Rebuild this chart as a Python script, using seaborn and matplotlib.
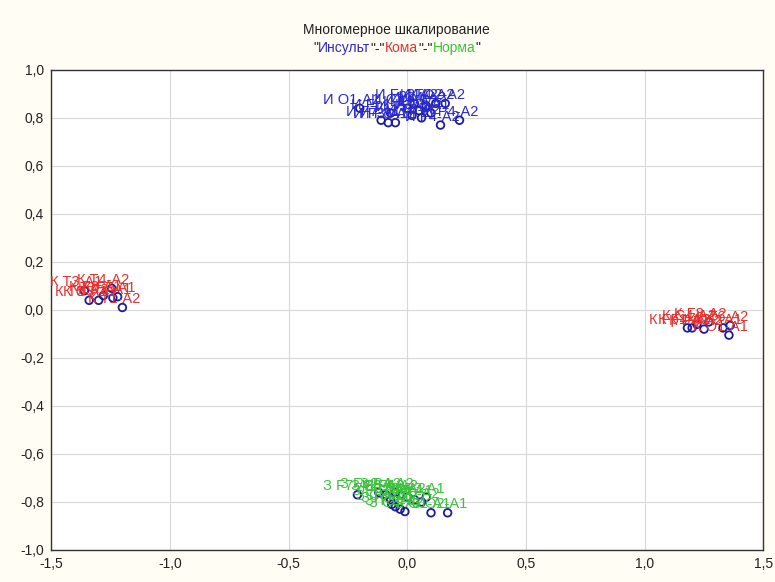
import matplotlib
matplotlib.use("Agg")
import matplotlib.pyplot as plt
import seaborn as sns
import pandas as pd
from matplotlib.ticker import FuncFormatter

# ---------------- data ----------------
leads = ["Fp1-A1", "Fp2-A2", "F3-A1", "F4-A2", "F7-A1", "F8-A2", "C3-A1", "C4-A2",
         "T3-A1", "T4-A2", "T5-A1", "T6-A2", "P3-A1", "P4-A2", "O1-A1", "O2-A2"]

insult_x = [-0.07, 0.03, -0.08, 0.14, -0.11, 0.05, 0.00, 0.08, 0.10, 0.12, 0.02, 0.06, -0.05, 0.22, -0.20, 0.16]
insult_y = [0.82, 0.86, 0.78, 0.77, 0.79, 0.83, 0.84, 0.85, 0.82, 0.86, 0.81, 0.80, 0.78, 0.79, 0.84, 0.86]

koma_l_x = [-1.36, -1.34, -1.30, -1.28, -1.245, -1.24, -1.22, -1.20]
koma_l_y = [0.08, 0.04, 0.04, 0.06, 0.09, 0.05, 0.055, 0.01]
koma_r_x = [1.18, 1.20, 1.22, 1.25, 1.33, 1.36, 1.355, 1.27]
koma_r_y = [-0.075, -0.075, -0.06, -0.08, -0.075, -0.065, -0.105, -0.05]

norma_x = [-0.21, -0.07, -0.065, -0.05, -0.03, -0.01, 0.10, 0.17, -0.12, -0.09, -0.03, 0.00, 0.03, 0.06, 0.08, -0.05]
norma_y = [-0.77, -0.79, -0.81, -0.82, -0.83, -0.84, -0.845, -0.845, -0.76, -0.77, -0.77, -0.78, -0.79, -0.80, -0.78, -0.76]
norma_labels = ["F7-A1", "Fp1-A1", "C3-A1", "F3-A1", "T3-A1", "C4-A2", "O1-A1", "O2-A1",
                "Fp2-A2", "F8-A2", "F4-A2", "T4-A2", "T5-A1", "T6-A2", "P3-A1", "P4-A2"]

koma_labels_l = ["T3-A1", "T5-A1", "C3-A1", "F3-A1", "T4-A2", "P3-A1", "F7-A1", "T1-A2"]
koma_labels_r = ["Fp1-A1", "F4-A2", "C4-A2", "P4-A2", "O2-A1", "T6-A2", "O1-A1", "F8-A2"]

groups = {"Инсульт": "#2a2ad0", "Кома": "#e8302e", "Норма": "#3cc23c"}

rows = []
for x, y, l in zip(insult_x, insult_y, leads):
    rows.append(("Инсульт", "И " + l, x, y))
for x, y, l in zip(koma_l_x, koma_l_y, koma_labels_l):
    rows.append(("Кома", "К " + l, x, y))
for x, y, l in zip(koma_r_x, koma_r_y, koma_labels_r):
    rows.append(("Кома", "К " + l, x, y))
for x, y, l in zip(norma_x, norma_y, norma_labels):
    rows.append(("Норма", "З " + l, x, y))
df = pd.DataFrame(rows, columns=["group", "label", "x", "y"])

# ---------------- plot ----------------
sns.set_style("white")
plt.rcParams["font.family"] = ["Liberation Sans", "DejaVu Sans"]

fig = plt.figure(figsize=(7.75, 5.82), dpi=100, facecolor="#fffdf4")
ax = fig.add_axes([0.066, 0.055, 0.919, 0.825])
ax.set_facecolor("white")

sns.scatterplot(data=df, x="x", y="y", ax=ax, marker="o", s=30,
                facecolors="none", edgecolor="#1c1c9c", linewidth=1.3,
                legend=False, zorder=3)

for _, r in df.iterrows():
    ax.annotate(r["label"], (r["x"], r["y"]), xytext=(-6, 6),
                textcoords="offset points", ha="center", va="center",
                fontsize=10.5, color=groups[r["group"]], zorder=4)

ax.set_xlim(-1.5, 1.5)
ax.set_ylim(-1.0, 1.0)
ax.set_xticks([-1.5, -1.0, -0.5, 0.0, 0.5, 1.0, 1.5])
ax.set_yticks([-1.0, -0.8, -0.6, -0.4, -0.2, 0.0, 0.2, 0.4, 0.6, 0.8, 1.0])
fmt = FuncFormatter(lambda v, p: f"{v:.1f}".replace(".", ",").replace("-0,0", "0,0"))
ax.xaxis.set_major_formatter(fmt)
ax.yaxis.set_major_formatter(fmt)
ax.grid(True, color="#d8d8d8", linewidth=0.8)
ax.set_axisbelow(True)
for s in ax.spines.values():
    s.set_color("#333333")
    s.set_linewidth(1.0)
ax.tick_params(axis="both", direction="in", length=4, labelsize=10,
               colors="#222222", pad=5)
ax.set_xlabel("")
ax.set_ylabel("")

# title
fig.text(0.512, 0.948, "Многомерное шкалирование", ha="center", va="center",
         fontsize=10, color="#222222")
parts = [('"', "#222222"), ("Инсульт", groups["Инсульт"]), ('"-"', "#222222"),
         ("Кома", groups["Кома"]), ('"-"', "#222222"), ("Норма", groups["Норма"]),
         ('"', "#222222")]
fig.canvas.draw()
renderer = fig.canvas.get_renderer()
texts = []
for t, c in parts:
    texts.append(fig.text(0, 0.918, t, ha="left", va="center", fontsize=10, color=c))
widths = [tx.get_window_extent(renderer).width for tx in texts]
total = sum(widths)
x0 = 0.512 * fig.bbox.width - total / 2
for tx, w in zip(texts, widths):
    tx.set_x(x0 / fig.bbox.width)
    x0 += w

fig.savefig("out.png", dpi=100, facecolor=fig.get_facecolor())
